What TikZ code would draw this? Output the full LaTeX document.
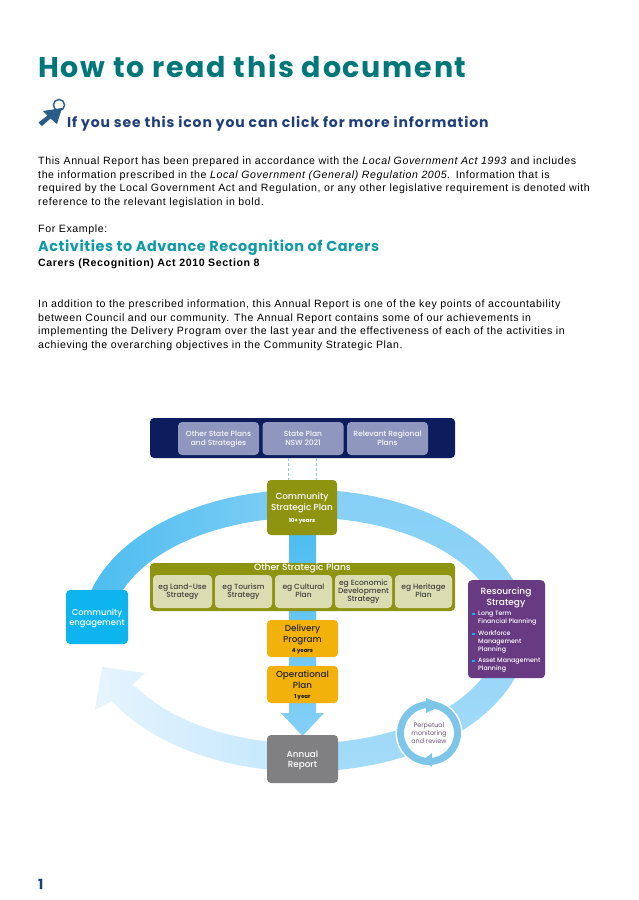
\documentclass[tikz,border=0pt]{standalone}
\usepackage{fontspec}
\setmainfont[LetterSpace=5.7]{Liberation Sans}
\newfontfamily\headf[LetterSpace=6.1]{Poppins}
\newfontfamily\hintf[LetterSpace=6.4]{Poppins}
\newfontfamily\actf[LetterSpace=4]{Poppins}
\newfontfamily\diagf[UprightFont=* Medium]{Poppins}
\newfontfamily\thinf{Poppins}
\usetikzlibrary{shadings}
\newcommand{\dtext}[2][1.4pt]{\setbox0=\hbox{\begin{tabular}{@{}c@{}}#2\end{tabular}}\rule{0pt}{\dimexpr\ht0+2\dimexpr#1\relax\relax}\box0 }
\definecolor{navy}{HTML}{0C1C5C}
\definecolor{pale}{HTML}{8F97BE}
\definecolor{olive}{HTML}{8E9310}
\definecolor{cream}{HTML}{DCDCB2}
\definecolor{amber}{HTML}{F3B10C}
\definecolor{greybox}{HTML}{808083}
\definecolor{cyanbox}{HTML}{0DB4EE}
\definecolor{purplebox}{HTML}{673A82}
\definecolor{skyA}{HTML}{4DBDF0}
\definecolor{skyB}{HTML}{85CFF6}
\definecolor{skyC}{HTML}{C4E7FC}
\definecolor{skyD}{HTML}{E6F4FE}
\definecolor{teal}{HTML}{00787A}
\definecolor{tealB}{HTML}{0E9AA7}
\definecolor{inkblue}{HTML}{1F3F7A}
\definecolor{iconblue}{HTML}{2A5C8A}
\tikzset{
  dbox/.style={rounded corners=4pt,minimum height=1pt,inner sep=0pt,align=center,font=\diagf},
  paleb/.style={dbox,fill=pale,text=white!92!pale,minimum width=81pt,minimum height=33pt,font=\diagf\fontsize{7.5}{8.4}\selectfont},
  creamb/.style={dbox,fill=cream,text=black!75,minimum height=33pt,font=\diagf\fontsize{7.5}{8.2}\selectfont},
  amberb/.style={dbox,fill=amber,text=black!85,minimum width=71pt,minimum height=37pt,font=\diagf\fontsize{8.8}{10.6}\selectfont},
  para/.style={anchor=north west,inner sep=0pt,align=left,font=\fontsize{10.6}{13.75}\selectfont},
  resl/.style={anchor=west,inner sep=0pt,text=white,align=left,font=\diagf\fontsize{6.3}{8}\selectfont},
  bul/.style={fill=cyanbox,minimum size=2.2pt,inner sep=0pt}
}
\begin{document}
\begin{tikzpicture}[x=1pt,y=-1pt]
\useasboundingbox (0,0) rectangle (638,900);
\fill[white] (0,0) rectangle (638,900);
% text
\node[anchor=base west,inner sep=0pt,text=teal,font=\headf\bfseries\fontsize{28.5}{30}\selectfont] (title) at (38,77) {How to read this document};
\node[anchor=base west,inner sep=0pt,text=inkblue,font=\hintf\bfseries\fontsize{14}{16}\selectfont] (hint) at (67,127) {If you see this icon you can click for more information};
\draw[iconblue,line width=1.4pt] (59,105) circle (5.6);
\fill[iconblue] (62,108) -- (43,111) -- (47.5,115.5) -- (38.5,122.5) -- (42,126) -- (50.5,118.5) -- (57,124) -- cycle;
\node[para] (p1) at (38,156.5) {This Annual Report has been prepared in accordance with the \textit{Local Government Act 1993} and includes\\the information prescribed in the \textit{Local Government (General) Regulation 2005.} Information that is\\required by the Local Government Act and Regulation, or any other legislative requirement is denoted with\\reference to the relevant legislation in bold.};
\node[para] (p2) at (38,224.5) {For Example:};
\node[anchor=base west,inner sep=0pt,text=tealB,font=\actf\bfseries\fontsize{14.4}{16}\selectfont] (act) at (38,251) {Activities to Advance Recognition of Carers};
\node[anchor=base west,inner sep=0pt,font=\bfseries\fontsize{10.6}{12}\selectfont] (carers) at (38,266) {Carers (Recognition) Act 2010 Section 8};
\node[para] (p3) at (38,299.5) {In addition to the prescribed information, this Annual Report is one of the key points of accountability\\between Council and our community. The Annual Report contains some of our achievements in\\implementing the Delivery Program over the last year and the effectiveness of each of the activities in\\achieving the overarching objectives in the Community Strategic Plan.};
\node[anchor=base west,inner sep=0pt,text=inkblue,font=\hintf\bfseries\fontsize{14}{16}\selectfont] (pg) at (38,889) {1};
% ring
\shade[left color=skyA,right color=skyB] plot[domain=195:272,samples=50] ({305+223*cos(\x)},{630.5+141*sin(\x)}) -- plot[domain=272:195,samples=50] ({305+195*cos(\x)},{630.5+113*sin(\x)}) -- cycle;
\shade[top color=skyB,bottom color=skyB!75!white] plot[domain=-90:85,samples=80] ({305+223*cos(\x)},{630.5+141*sin(\x)}) -- plot[domain=85:-90,samples=80] ({305+195*cos(\x)},{630.5+113*sin(\x)}) -- cycle;
\shade[left color=skyD,right color=skyC] plot[domain=95:150,samples=40] ({305+223*cos(\x)},{630.5+141*sin(\x)}) -- (95,710) -- (102,667) -- (145,673) -- (132,685) -- plot[domain=150:95,samples=40] ({305+195*cos(\x)},{630.5+113*sin(\x)}) -- cycle;
% stem
\shade[top color=skyA,bottom color=skyB] (289,530) -- (316,530) -- (316,713) -- (324,713) -- (302.5,736) -- (281,713) -- (289,713) -- cycle;
% monitoring circle
\fill[white] (429,733) circle (33.5);
\draw[skyB!95!black,line width=7pt] (429,733) circle (28.5);
\fill[skyB!95!black] (443,705) -- (426,698) -- (426,713) -- cycle;
\fill[skyB!95!black] (423,760) -- (432,753) -- (432,767) -- cycle;
\node[inner sep=0pt,align=center,text=purplebox!70!black!80,font=\thinf\fontsize{6.4}{8}\selectfont] (perp) at (429,733) {Perpetual\\monitoring\\and review};
% top block
\node[dbox,fill=navy,minimum width=305pt,minimum height=40pt] (state) at (302.5,438) {};
\node[paleb] (s1) at (218.5,438.5) {\dtext[.8pt]{Other State Plans\\and Strategies}};
\node[paleb] (s2) at (303,438.5) {\dtext[.8pt]{State Plan\\NSW 2021}};
\node[paleb] (s3) at (387.5,438.5) {\dtext[.8pt]{Relevant Regional\\Plans}};
\node[dbox,fill=olive,text=white,minimum width=70pt,minimum height=55pt,font=\diagf\fontsize{8.8}{10.8}\selectfont] (csp) at (302,507.5) {\dtext{Community\\Strategic Plan\\[1pt]{\fontsize{5.5}{6}\selectfont\bfseries 10+ years}}};
\coordinate (dl1) at (288,458); \coordinate (dl2) at (316,458);
\draw[skyB,dashed,line width=.8pt,dash pattern=on 3pt off 2pt] (dl1) -- (dl1|-csp.north);
\draw[skyB,dashed,line width=.8pt,dash pattern=on 3pt off 2pt] (dl2) -- (dl2|-csp.north);
% other plans
\node[dbox,fill=olive,minimum width=305pt,minimum height=48pt] (other) at (302.5,587) {};
\node[inner sep=0pt,text=white,font=\diagf\fontsize{9.1}{10}\selectfont] (otitle) at (302.5,568.5) {Other Strategic Plans};
\node[creamb,minimum width=59pt] (c1) at (182.5,591.5) {\dtext[.6pt]{eg Land-Use\\Strategy}};
\node[creamb,minimum width=57pt] (c2) at (243.5,591.5) {\dtext[.6pt]{eg Tourism\\Strategy}};
\node[creamb,minimum width=57pt] (c3) at (303.5,591.5) {\dtext[.6pt]{eg Cultural\\Plan}};
\node[creamb,minimum width=57pt] (c4) at (363.5,591.5) {\dtext[.6pt]{eg Economic\\Development\\Strategy}};
\node[creamb,minimum width=57pt] (c5) at (423.5,591.5) {\dtext[.6pt]{eg Heritage\\Plan}};
% stage boxes
\node[amberb] (dp) at (302.5,638.5) {\dtext{Delivery\\Program\\[-.5pt]{\fontsize{5.5}{6}\selectfont\bfseries 4 years}}};
\node[amberb] (op) at (302.5,684.5) {\dtext{Operational\\Plan\\[-.5pt]{\fontsize{5.5}{6}\selectfont\bfseries 1 year}}};
\node[dbox,fill=greybox,text=white,minimum width=71pt,minimum height=48pt,font=\diagf\fontsize{8.8}{10.6}\selectfont] (ar) at (302.5,759) {\dtext{Annual\\Report}};
\node[dbox,fill=cyanbox,text=white,minimum width=62pt,minimum height=54pt,font=\diagf\fontsize{8.4}{10.6}\selectfont] (ce) at (97,617) {\dtext{Community\\engagement}};
% resourcing
\node[dbox,fill=purplebox,text=white,anchor=north,minimum width=77pt,minimum height=98pt] (rs) at (506.5,580) {};
\node[inner sep=0pt,text=white,align=center,font=\diagf\fontsize{9}{10.6}\selectfont] (rst) at (506,598) {Resourcing\\Strategy};
\node[resl] (r1) at (478,618) {Long Term\\Financial Planning};
\node[resl] (r2) at (478,642) {Workforce\\Management\\Planning};
\node[resl] (r3) at (478,665) {Asset Management\\Planning};
\node[bul] (b1) at (473.5,614) {};
\node[bul] (b2) at (473.5,634) {};
\node[bul] (b3) at (473.5,661) {};
\end{tikzpicture}
\end{document}
